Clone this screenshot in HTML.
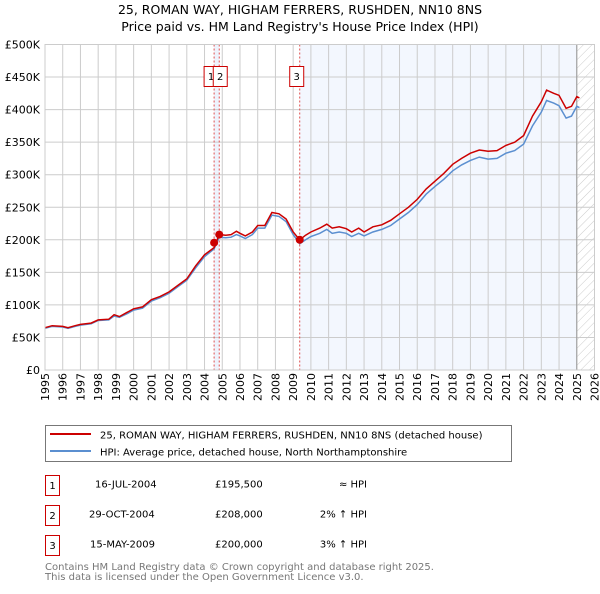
<!DOCTYPE html>
<html><head><meta charset="utf-8"><style>
body{margin:0;background:#fff;font-family:"DejaVu Sans","Liberation Sans",sans-serif;}
svg text{font-family:"DejaVu Sans","Liberation Sans",sans-serif;}
</style></head><body>
<svg id="chart" width="600" height="590" xmlns="http://www.w3.org/2000/svg">
<defs><pattern id="hatch" width="6" height="6" patternUnits="userSpaceOnUse" patternTransform="rotate(45)"><line x1="0" y1="0" x2="0" y2="6" stroke="#ccc" stroke-width="1"/></pattern></defs>
<text x="300" y="14" text-anchor="middle" font-size="12.5">25, ROMAN WAY, HIGHAM FERRERS, RUSHDEN, NN10 8NS</text>
<text x="300" y="31" text-anchor="middle" font-size="12.5">Price paid vs. HM Land Registry's House Price Index (HPI)</text>
<g id="plot"></g>
<g>
<rect x="45.5" y="425.5" width="466" height="36" fill="#fff" stroke="#777"/>
<line x1="50" y1="434" x2="91" y2="434" stroke="#cc0000" stroke-width="2"/>
<text x="100" y="438.5" font-size="10">25, ROMAN WAY, HIGHAM FERRERS, RUSHDEN, NN10 8NS (detached house)</text>
<line x1="50" y1="451" x2="91" y2="451" stroke="#5b8fd0" stroke-width="2"/>
<text x="100" y="455.5" font-size="10">HPI: Average price, detached house, North Northamptonshire</text>
</g>
<g font-size="10">
<rect x="45.5" y="475.5" width="14" height="20" fill="#fff" stroke="#cc0000"/><text x="52.5" y="489" text-anchor="middle">1</text>
<text x="95" y="487.5">16-JUL-2004</text><text x="215" y="487.5">£195,500</text><text x="367" y="487.5" text-anchor="end">≈ HPI</text>
<rect x="45.5" y="505.5" width="14" height="20" fill="#fff" stroke="#cc0000"/><text x="52.5" y="519" text-anchor="middle">2</text>
<text x="89" y="517.5">29-OCT-2004</text><text x="215" y="517.5">£208,000</text><text x="367" y="517.5" text-anchor="end">2% ↑ HPI</text>
<rect x="45.5" y="535.5" width="14" height="20" fill="#fff" stroke="#cc0000"/><text x="52.5" y="549" text-anchor="middle">3</text>
<text x="90" y="547.5">15-MAY-2009</text><text x="215" y="547.5">£200,000</text><text x="367" y="547.5" text-anchor="end">3% ↑ HPI</text>
</g>
<text x="45" y="570" font-size="10" fill="#777">Contains HM Land Registry data © Crown copyright and database right 2025.</text>
<text x="45" y="580" font-size="10" fill="#777">This data is licensed under the Open Government Licence v3.0.</text>
</svg>
<script>
const yearTicks=[1995,1996,1997,1998,1999,2000,2001,2002,2003,2004,2005,2006,2007,2008,2009,2010,2011,2012,2013,2014,2015,2016,2017,2018,2019,2020,2021,2022,2023,2024,2025,2026];
const valueTicks=[0,50000,100000,150000,200000,250000,300000,350000,400000,450000,500000];
const valueLabels=["£0","£50K","£100K","£150K","£200K","£250K","£300K","£350K","£400K","£450K","£500K"];
const dates=[1995,1995.4,1996,1996.3,1996.7,1997,1997.6,1998,1998.6,1998.9,1999.2,1999.6,2000,2000.5,2001,2001.5,2002,2002.5,2003,2003.5,2004,2004.54,2004.83,2005.2,2005.5,2005.8,2006,2006.3,2006.7,2007,2007.4,2007.8,2008.2,2008.6,2009,2009.37,2009.7,2010,2010.5,2010.9,2011.2,2011.6,2012,2012.3,2012.7,2013,2013.5,2014,2014.5,2015,2015.5,2016,2016.5,2017,2017.5,2018,2018.5,2019,2019.5,2020,2020.5,2021,2021.5,2022,2022.5,2023,2023.3,2023.7,2024,2024.4,2024.7,2025,2025.15];
const propertyValues=[65000,68000,67000,65000,68000,70000,72000,77000,78000,85000,82000,88000,94000,97000,108000,113000,120000,130000,140000,160000,177000,188000,208000,207000,208000,213000,210000,206000,212000,222000,222000,242000,240000,232000,212000,200000,207000,212000,218000,224000,218000,220000,217000,212000,218000,212000,220000,223000,230000,240000,250000,262000,278000,290000,302000,316000,325000,333000,338000,336000,337000,345000,350000,360000,390000,412000,430000,425000,422000,402000,405000,420000,418000];
const hpiValues=[64000,67000,66000,64000,67000,69000,71000,76000,77000,83000,81000,86000,92000,95000,106000,111000,118000,128000,138000,157000,174000,186000,204000,203000,204000,208000,206000,202000,208000,218000,218000,238000,236000,228000,208000,194000,200000,205000,210000,216000,210000,212000,210000,205000,210000,206000,212000,216000,222000,232000,242000,254000,270000,282000,293000,306000,315000,322000,327000,324000,325000,333000,337000,347000,375000,396000,414000,410000,406000,387000,390000,405000,403000];
const sales=[[2004.54,195500],[2004.83,208000],[2009.37,200000]];
const NS="http://www.w3.org/2000/svg";
const X0=45,X1=594.5,Y0=370,Y1=44.5;
function xs(t){return X0+(t-1995)/(2026-1995)*(X1-X0);}
function ys(v){return Y0-v/500000*(Y0-Y1);}
const g=document.getElementById('plot');
function mk(tag,attrs,parent){const e=document.createElementNS(NS,tag);for(const k in attrs)e.setAttribute(k,attrs[k]);(parent||g).appendChild(e);return e;}
const shade=mk('rect',{x:xs(2009.37),y:Y1,width:xs(2025.0)-xs(2009.37),height:Y0-Y1,fill:'#eef3fd',opacity:0.7});


const band=mk('rect',{x:xs(2004.54),y:Y1,width:xs(2004.83)-xs(2004.54),height:Y0-Y1,fill:'#eef3fd'});


const hatch=mk('rect',{x:xs(2025.0),y:Y1,width:X1-xs(2025.0),height:Y0-Y1,fill:'url(#hatch)'});


yearTicks.forEach(yr=>{
  const l=mk('line',{x1:xs(yr),x2:xs(yr),y1:Y1,y2:Y0,stroke:'#ccc','stroke-width':1});
  
  
  const t=mk('text',{x:0,y:0,'font-size':11,'text-anchor':'end',transform:`translate(${xs(yr)+4},373) rotate(-90)`});
  
  
  t.textContent=yr;
});
valueTicks.forEach((v,i)=>{
  const l=mk('line',{x1:X0,x2:X1,y1:ys(v),y2:ys(v),stroke:'#ccc','stroke-width':1});
  
  
  const t=mk('text',{x:40,y:ys(v)+4,'font-size':11,'text-anchor':'end'});
  
  
  t.textContent=valueLabels[i];
});
const vline=mk('line',{x1:xs(2025.0),x2:xs(2025.0),y1:Y1,y2:Y0,stroke:'#999','stroke-width':1});


sales.forEach((s,i)=>{
  const l=mk('line',{x1:xs(s[0]),x2:xs(s[0]),y1:Y1,y2:Y0,stroke:'#e05050','stroke-width':1,'stroke-dasharray':'2,2'});
  
  
});
function path(vals){return dates.map((d,i)=>(i?'L':'M')+xs(d).toFixed(1)+','+ys(vals[i]).toFixed(1)).join('');}
const hp=mk('path',{d:path(hpiValues),fill:'none',stroke:'#5b8fd0','stroke-width':1.5});


const pp=mk('path',{d:path(propertyValues),fill:'none',stroke:'#cc0000','stroke-width':1.5});


sales.forEach((s,i)=>{
  const c=mk('circle',{cx:xs(s[0]),cy:ys(s[1]),r:4,fill:'#cc0000'});
  
  
});
const boxX=[xs(2004.54)-10,xs(2004.83)-6,xs(2009.37)-10];
sales.forEach((s,i)=>{
  const r=mk('rect',{x:boxX[i],y:66.5,width:14,height:20,fill:'#fff',stroke:'#cc0000'});
  
  
  const t=mk('text',{x:boxX[i]+7,y:80,'font-size':10,'text-anchor':'middle'});
  
  
  t.textContent=String(i+1);
});
const frame=mk('rect',{x:X0,y:Y1,width:X1-X0,height:Y0-Y1,fill:'none',stroke:'#ccc'});


</script>
</body></html>
